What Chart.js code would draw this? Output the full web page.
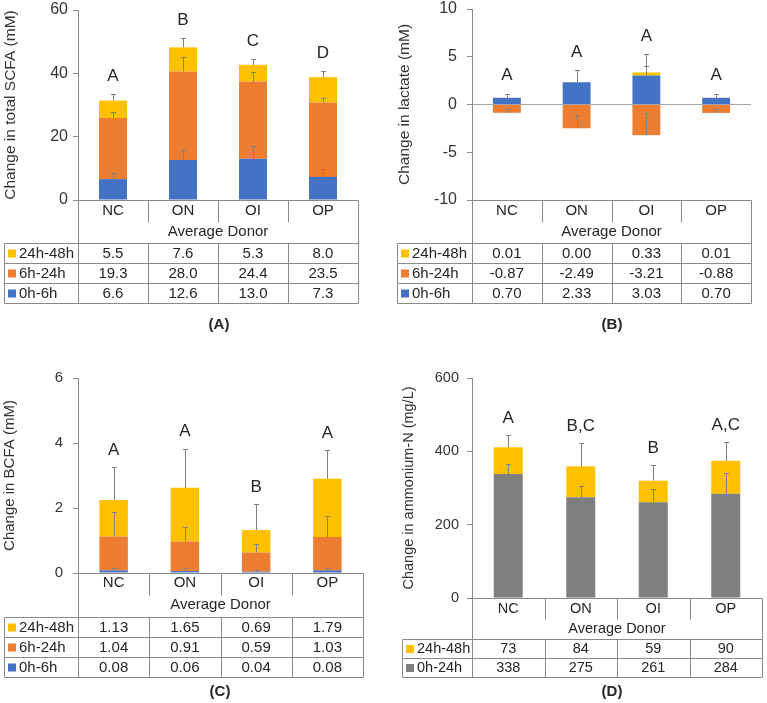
<!DOCTYPE html>
<html>
<head>
<meta charset="utf-8">
<script src="https://cdn.jsdelivr.net/npm/chart.js@4"></script>
<style>
  body { margin: 0; background: #fff; }
  #wrap { position: relative; width: 767px; height: 703px; }
  .panel { position: absolute; }
</style>
</head>
<body>
<div id="wrap">
  <div class="panel" style="left:0;top:0;width:384px;height:350px"><canvas id="chartA"></canvas></div>
  <div class="panel" style="left:384px;top:0;width:383px;height:350px"><canvas id="chartB"></canvas></div>
  <div class="panel" style="left:0;top:350px;width:384px;height:353px"><canvas id="chartC"></canvas></div>
  <div class="panel" style="left:384px;top:350px;width:383px;height:353px"><canvas id="chartD"></canvas></div>
</div>
<script>
const groups = ["NC", "ON", "OI", "OP"];
const groupTitle = "Average Donor";

// (A) total SCFA, mM
const scfa0to6 = [6.6, 12.6, 13.0, 7.3];
const scfa6to24 = [19.3, 28.0, 24.4, 23.5];
const scfa24to48 = [5.5, 7.6, 5.3, 8.0];
const scfaErr0to6 = [1.9, 3.2, 4.0, 2.5];
const scfaErr6to24 = [1.9, 4.5, 3.0, 1.4];
const scfaErr24to48 = [2.1, 3.0, 1.8, 1.9];
const scfaLetters = ["A", "B", "C", "D"];

// (B) lactate, mM
const lac0to6 = [0.70, 2.33, 3.03, 0.70];
const lac6to24 = [-0.87, -2.49, -3.21, -0.88];
const lac24to48 = [0.01, 0.00, 0.33, 0.01];
const lacErr0to6 = [0.42, 1.3, 0.97, 0.42];
const lacErr6to24 = [0.43, 1.4, 2.3, 0.45];
const lacErr24to48 = [0, 0, 1.9, 0];
const lacLetters = ["A", "A", "A", "A"];

// (C) BCFA, mM
const bcfa0to6 = [0.08, 0.06, 0.04, 0.08];
const bcfa6to24 = [1.04, 0.91, 0.59, 1.03];
const bcfa24to48 = [1.13, 1.65, 0.69, 1.79];
const bcfaErr0to6 = [0.07, 0.09, 0.06, 0.07];
const bcfaErr6to24 = [0.76, 0.45, 0.25, 0.64];
const bcfaErr24to48 = [1.0, 1.21, 0.8, 0.88];
const bcfaLetters = ["A", "A", "B", "A"];

// (D) ammonium-N, mg/L
const nh0to24 = [338, 275, 261, 284];
const nh24to48 = [73, 84, 59, 90];
const nhErr0to24 = [27, 30, 36, 57];
const nhErr24to48 = [33, 63, 42, 51];
const nhLetters = ["A", "B,C", "B", "A,C"];

const blue = "#4472C4";
const orange = "#ED7D31";
const yellow = "#FFC000";
const grey = "#7F7F7F";
const lineColor = "#8a8a8a";
const textColor = "#262626";
const fam = "'Liberation Sans', Arial, sans-serif";

Chart.defaults.font.family = fam;
Chart.defaults.color = textColor;

// end of the stacked segment (positives and negatives stack apart)
function stackEnd(chart, i, j) {
  const v = chart.data.datasets[i].data[j];
  let end = 0;
  for (let k = 0; k <= i; k++) {
    const w = chart.data.datasets[k].data[j];
    if ((w < 0) === (v < 0)) end += w;
  }
  return end;
}

function line(ctx, x0, y0, x1, y1) {
  ctx.beginPath();
  ctx.moveTo(x0, y0);
  ctx.lineTo(x1, y1);
  ctx.stroke();
}

const panelPlugin = {
  id: "panel",
  afterDatasetsDraw(chart, args, opts) {
    const ctx = chart.ctx;
    const y = chart.scales.y;
    ctx.save();
    ctx.strokeStyle = "#808080";
    ctx.lineWidth = 1;
    chart.data.datasets.forEach((ds, i) => {
      const meta = chart.getDatasetMeta(i);
      ds.data.forEach((v, j) => {
        const err = ds.err[j];
        if (!err) return;
        const end = stackEnd(chart, i, j);
        const px = Math.round(meta.data[j].x) + 0.5;
        const y0 = y.getPixelForValue(end);
        const y1 = Math.round(y.getPixelForValue(end + err)) + 0.5;
        line(ctx, px, y0, px, y1);
        line(ctx, px - 2.5, y1, px + 2.5, y1);
      });
    });
    ctx.restore();
  },
  afterDraw(chart, args, opts) {
    const ctx = chart.ctx;
    const x = chart.scales.x;
    const y = chart.scales.y;
    const { left, right, bottom } = chart.chartArea;
    const L = Math.round(left) + 0.5, R = Math.round(right) + 0.5, B = Math.round(bottom) + 0.5;
    const t = opts.table;
    const rows = chart.data.datasets.slice().reverse();
    const tblBottom = t.top + rows.length * t.rowH;
    ctx.save();

    // significance letters
    ctx.fillStyle = textColor;
    ctx.font = "17px " + fam;
    ctx.textAlign = "center";
    ctx.textBaseline = "middle";
    opts.letters.forEach((letter, j) => {
      let top = 0;
      chart.data.datasets.forEach((ds, i) => {
        const end = stackEnd(chart, i, j);
        top = Math.max(top, end, end + (ds.err[j] || 0));
      });
      ctx.fillText(letter, x.getPixelForValue(j), y.getPixelForValue(top) - opts.letterGap);
    });

    // frame below plot and table grid
    ctx.strokeStyle = lineColor;
    ctx.lineWidth = 1;
    line(ctx, L, B, R, B);
    line(ctx, L, B, L, tblBottom + 0.5);
    line(ctx, R, B, R, tblBottom + 0.5);
    for (let k = 1; k < groups.length; k++) {
      const bx = Math.round(left + (right - left) * k / groups.length) + 0.5;
      line(ctx, bx, B, bx, B + t.sepLen);
      line(ctx, bx, t.top, bx, tblBottom);
    }
    for (let r = 0; r <= rows.length; r++) {
      const ly = t.top + r * t.rowH + 0.5;
      line(ctx, t.left + 0.5, ly, R, ly);
    }
    line(ctx, t.left + 0.5, t.top + 0.5, t.left + 0.5, tblBottom + 0.5);

    // category labels
    ctx.font = opts.textSize + "px " + fam;
    groups.forEach((g, j) => ctx.fillText(g, x.getPixelForValue(j), bottom + t.labelDy));
    ctx.fillText(groupTitle, (left + right) / 2, bottom + t.titleDy);

    // table rows
    rows.forEach((ds, r) => {
      const cy = t.top + r * t.rowH + t.rowH / 2 + 0.5;
      ctx.fillStyle = ds.backgroundColor;
      ctx.fillRect(t.left + 4, cy - 4, 8, 8);
      ctx.fillStyle = textColor;
      ctx.textAlign = "left";
      ctx.fillText(ds.label, t.left + 15, cy);
      ctx.textAlign = "center";
      ds.data.forEach((v, j) => ctx.fillText(v.toFixed(opts.decimals), x.getPixelForValue(j), cy));
    });

    // panel tag
    ctx.font = "bold 15px " + fam;
    ctx.fillText(opts.tag, opts.tagX, opts.tagY);
    ctx.restore();
  }
};

function makeChart(id, cfg) {
  const datasets = cfg.series.map(s => ({
    label: s.label,
    data: s.data,
    err: s.err,
    backgroundColor: s.color,
    borderWidth: 0,
    barPercentage: 0.4,
    categoryPercentage: 1.0,
    stack: "s"
  }));
  return new Chart(document.getElementById(id), {
    type: "bar",
    data: { labels: groups, datasets: datasets },
    plugins: [panelPlugin],
    options: {
      responsive: true,
      maintainAspectRatio: false,
      animation: false,
      layout: { padding: cfg.padding },
      plugins: {
        legend: { display: false },
        tooltip: { enabled: false },
        panel: {
          letters: cfg.letters,
          letterGap: cfg.letterGap,
          decimals: cfg.decimals,
          textSize: cfg.textSize,
          table: cfg.table,
          tag: cfg.tag,
          tagX: cfg.tagX,
          tagY: cfg.tagY
        }
      },
      scales: {
        x: { display: false, stacked: true },
        y: {
          stacked: true,
          min: cfg.yMin,
          max: cfg.yMax,
          afterFit: (s) => {
            s.width = cfg.axisWidth;
            s.paddingTop = 0;
            s.paddingBottom = 0;
          },
          ticks: { stepSize: cfg.yStep, padding: cfg.tickPad, font: { size: cfg.tickSize }, color: "#333" },
          border: { display: true, color: lineColor },
          grid: {
            drawOnChartArea: cfg.zeroLine,
            color: (c) => (cfg.zeroLine && c.tick && c.tick.value === 0) ? "#a6a6a6" : "rgba(0,0,0,0)",
            tickColor: lineColor,
            tickLength: 5
          },
          title: {
            display: true,
            text: cfg.yTitle,
            font: { size: cfg.titleSize },
            color: "#333",
            padding: { top: cfg.titlePad, bottom: 0 }
          }
        }
      }
    }
  });
}

makeChart("chartA", {
  series: [
    { label: "0h-6h", data: scfa0to6, err: scfaErr0to6, color: blue },
    { label: "6h-24h", data: scfa6to24, err: scfaErr6to24, color: orange },
    { label: "24h-48h", data: scfa24to48, err: scfaErr24to48, color: yellow }
  ],
  letters: scfaLetters, letterGap: 18, decimals: 1,
  yMin: 0, yMax: 60, yStep: 20, yTitle: "Change in total SCFA (mM)",
  axisWidth: 78, tickPad: 5, tickSize: 16, titleSize: 15.5, titlePad: 1, textSize: 15, zeroLine: false,
  padding: { left: 0, top: 10, right: 26, bottom: 150 },
  table: { left: 4, top: 243, rowH: 20, labelDy: 11, sepLen: 22, titleDy: 32 },
  tag: "(A)", tagX: 219, tagY: 325
});

makeChart("chartB", {
  series: [
    { label: "0h-6h", data: lac0to6, err: lacErr0to6, color: blue },
    { label: "6h-24h", data: lac6to24, err: lacErr6to24, color: orange },
    { label: "24h-48h", data: lac24to48, err: lacErr24to48, color: yellow }
  ],
  letters: lacLetters, letterGap: 18, decimals: 2,
  yMin: -10, yMax: 10, yStep: 5, yTitle: "Change in lactate (mM)",
  axisWidth: 88, tickPad: 10, tickSize: 16, titleSize: 15.5, titlePad: 11, textSize: 15, zeroLine: true,
  padding: { left: 0, top: 9, right: 16, bottom: 150 },
  table: { left: 13, top: 243, rowH: 20, labelDy: 11, sepLen: 22, titleDy: 32 },
  tag: "(B)", tagX: 228, tagY: 325
});

makeChart("chartC", {
  series: [
    { label: "0h-6h", data: bcfa0to6, err: bcfaErr0to6, color: blue },
    { label: "6h-24h", data: bcfa6to24, err: bcfaErr6to24, color: orange },
    { label: "24h-48h", data: bcfa24to48, err: bcfaErr24to48, color: yellow }
  ],
  letters: bcfaLetters, letterGap: 17, decimals: 2,
  yMin: 0, yMax: 6, yStep: 2, yTitle: "Change in BCFA (mM)",
  axisWidth: 78, tickPad: 10, tickSize: 15, titleSize: 15, titlePad: 1, textSize: 15, zeroLine: false,
  padding: { left: 0, top: 28, right: 21, bottom: 130 },
  table: { left: 4, top: 267, rowH: 20, labelDy: 10, sepLen: 22, titleDy: 32 },
  tag: "(C)", tagX: 220, tagY: 342
});

makeChart("chartD", {
  series: [
    { label: "0h-24h", data: nh0to24, err: nhErr0to24, color: grey },
    { label: "24h-48h", data: nh24to48, err: nhErr24to48, color: yellow }
  ],
  letters: nhLetters, letterGap: 17, decimals: 0,
  yMin: 0, yMax: 600, yStep: 200, yTitle: "Change in ammonium-N (mg/L)",
  axisWidth: 88, tickPad: 8, tickSize: 14.5, titleSize: 14.5, titlePad: 16, textSize: 14.5, zeroLine: false,
  padding: { left: 0, top: 28, right: 5, bottom: 105 },
  table: { left: 18, top: 289, rowH: 19, labelDy: 11, sepLen: 21, titleDy: 31 },
  tag: "(D)", tagX: 228, tagY: 342
});
</script>
</body>
</html>
